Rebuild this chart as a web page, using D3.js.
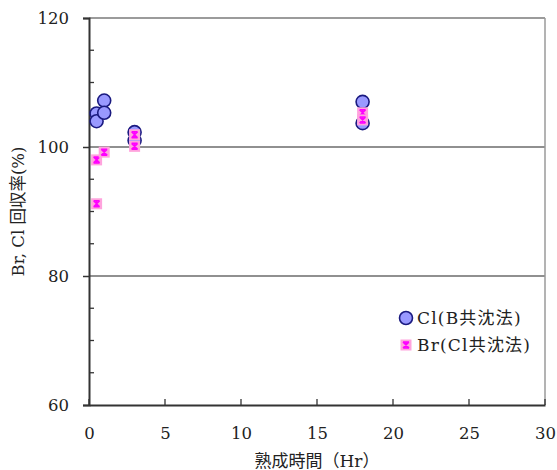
<!DOCTYPE html>
<html><head><meta charset="utf-8">
<script src="https://cdn.jsdelivr.net/npm/d3@7"></script>
<style>
html,body{margin:0;padding:0;background:#fff;}
svg text{font-family:"DejaVu Serif","Liberation Serif","Noto Sans CJK JP",serif;fill:#222;}
</style></head><body>
<svg id="c" width="557" height="470"></svg>
<script>
const clHours = [0.5, 0.5, 1, 1, 3, 3, 18, 18];
const clValues = [105.2, 104.0, 107.2, 105.3, 102.3, 101.0, 107.0, 103.7];
const brHours = [0.5, 0.5, 1, 3, 3, 18, 18];
const brValues = [98.0, 91.2, 99.2, 101.9, 100.1, 105.3, 104.2];
const xTicks = [0, 5, 10, 15, 20, 25, 30];
const yTicks = [60, 80, 100, 120];
const yMinor = [65, 70, 75, 85, 90, 95, 105, 110, 115];
const gridValues = [80, 100];
const legendLabels = ["Cl(B共沈法)", "Br(Cl共沈法)"];
const xTitle = "熟成時間（Hr）";
const yTitle = "Br, Cl 回収率(%)";

const svg = d3.select("#c");
const L = 89, R = 545, T = 18, B = 405;
const x = d3.scaleLinear().domain([0, 30]).range([L, R]);
const y = d3.scaleLinear().domain([60, 120]).range([B, T]);

// grid lines
svg.append("g").selectAll("line").data(gridValues).join("line")
  .attr("x1", L).attr("x2", R).attr("y1", d => y(d)).attr("y2", d => y(d))
  .attr("stroke", "#6b6b6b").attr("stroke-width", 1.5);
// top & right borders
svg.append("line").attr("x1", L).attr("x2", R).attr("y1", T).attr("y2", T).attr("stroke", "#7a7a7a").attr("stroke-width", 1.5);
svg.append("line").attr("x1", R).attr("x2", R).attr("y1", T).attr("y2", B).attr("stroke", "#9a9a9a").attr("stroke-width", 1.5);

// y axis
const yAxis = svg.append("g").attr("transform", `translate(${L},0)`)
  .call(d3.axisLeft(y).tickValues(yTicks).tickSize(6).tickPadding(14).tickFormat(d3.format("d")));
yAxis.select(".domain").attr("stroke", "#333").attr("stroke-width", 2);
yAxis.selectAll(".tick line").attr("stroke", "#333").attr("stroke-width", 1.5);
yAxis.selectAll("text").attr("font-size", 16.5).attr("fill", "#222");
svg.append("g").selectAll("line").data(yMinor).join("line")
  .attr("x1", L).attr("x2", L + 5).attr("y1", d => y(d)).attr("y2", d => y(d))
  .attr("stroke", "#333").attr("stroke-width", 1.3);

// x axis
const xAxis = svg.append("g").attr("transform", `translate(0,${B})`)
  .call(d3.axisBottom(x).tickValues(xTicks).tickSize(0).tickPadding(22).tickFormat(d3.format("d")));
xAxis.select(".domain").attr("stroke", "#333").attr("stroke-width", 2);
xAxis.selectAll("text").attr("font-size", 16.5).attr("fill", "#222");
svg.append("g").selectAll("line").data(xTicks).join("line")
  .attr("x1", d => x(d)).attr("x2", d => x(d)).attr("y1", B).attr("y2", B - 6)
  .attr("stroke", "#333").attr("stroke-width", 1.3);

// titles
svg.append("text").attr("x", 317).attr("y", 467).attr("text-anchor", "middle")
  .attr("font-size", 17).text(xTitle);
svg.append("text").attr("transform", `translate(24,${(T + B) / 2}) rotate(-90)`)
  .attr("text-anchor", "middle").attr("font-size", 16.5).text(yTitle);

// marker drawers
function drawCircle(g, cx, cy) {
  g.append("circle").attr("cx", cx).attr("cy", cy).attr("r", 6.5)
    .attr("fill", "#9999ff").attr("stroke", "#1a1a80").attr("stroke-width", 1.6);
}
function drawStar(g, cx, cy) {
  const s = 5.5;
  g.append("rect").attr("x", cx - s).attr("y", cy - s).attr("width", 2 * s).attr("height", 2 * s)
    .attr("fill", "#ffa3dd");
  const a = 3;
  g.append("path")
    .attr("d", `M${cx - a},${cy - a}L${cx + a},${cy + a}M${cx - a},${cy + a}L${cx + a},${cy - a}M${cx - a},${cy - a}L${cx + a},${cy - a}M${cx - a},${cy + a}L${cx + a},${cy + a}M${cx},${cy - a}L${cx},${cy + a}`)
    .attr("stroke", "#ff00ff").attr("stroke-width", 1.5).attr("fill", "none");
}

const gCl = svg.append("g");
clHours.forEach((h, i) => drawCircle(gCl, x(h), y(clValues[i])));
const gBr = svg.append("g");
brHours.forEach((h, i) => drawStar(gBr, x(h), y(brValues[i])));

// legend
const lg = svg.append("g");
drawCircle(lg, 406, 318);
lg.append("text").attr("x", 417).attr("y", 318).attr("dy", "0.35em").attr("font-size", 17).attr("letter-spacing", 1.2).text(legendLabels[0]);
drawStar(lg, 406, 345);
lg.append("text").attr("x", 417).attr("y", 345).attr("dy", "0.35em").attr("font-size", 17).attr("letter-spacing", 1.2).text(legendLabels[1]);
</script></body></html>
